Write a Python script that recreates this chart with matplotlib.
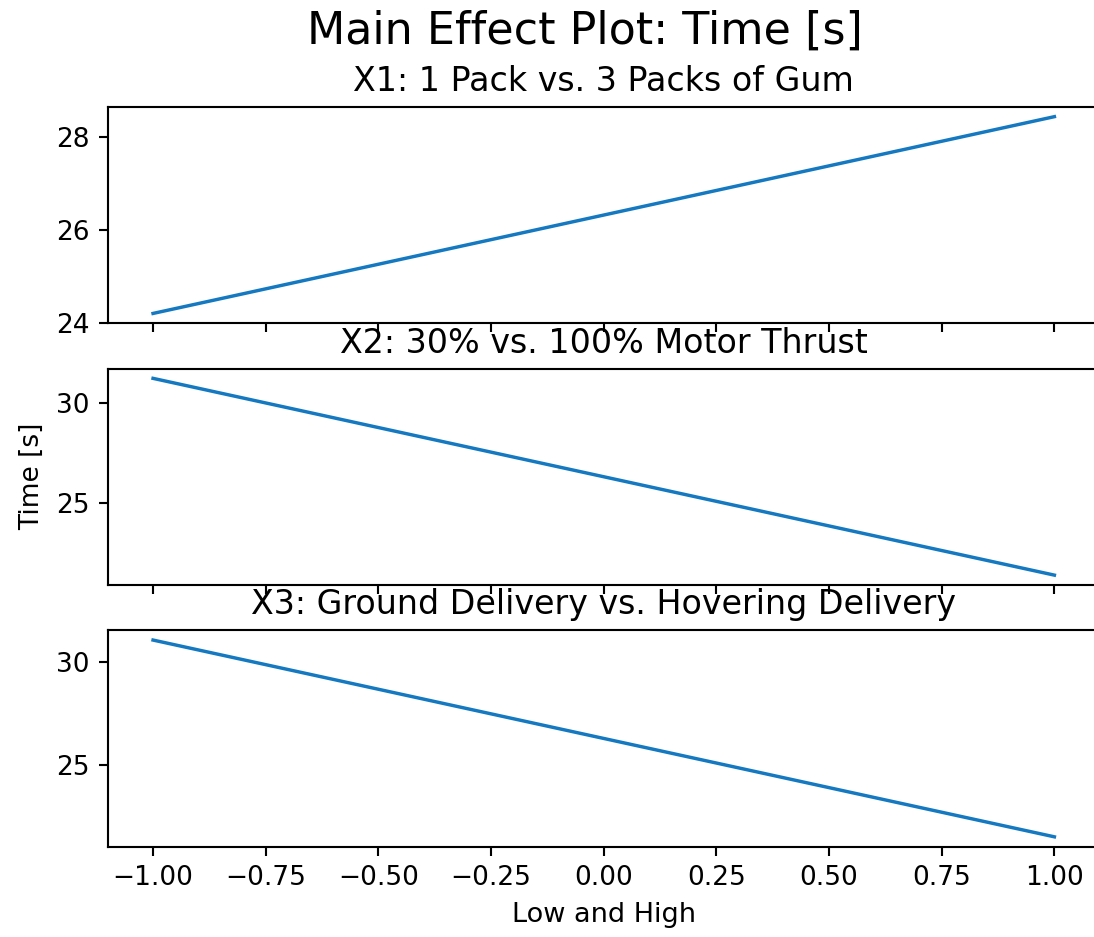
import matplotlib
matplotlib.use("Agg")
import matplotlib.pyplot as plt

# Coded factor levels (low, high)
levels = [-1, 1]

# Mean response time [s] at each factor level
x1_means = [24.2, 28.45]
x2_means = [31.2, 21.42]
x3_means = [31.07, 21.53]

factor_titles = [
    "X1: 1 Pack vs. 3 Packs of Gum",
    "X2: 30% vs. 100% Motor Thrust",
    "X3: Ground Delivery vs. Hovering Delivery",
]

DPI = 190
fig, axes = plt.subplots(3, 1, sharex=True, figsize=(1094 / DPI, 937 / DPI), dpi=DPI)
fig.subplots_adjust(left=0.0987, right=1.005, bottom=0.0964, top=0.886, hspace=0.209)

for ax, means, title in zip(axes, [x1_means, x2_means, x3_means], factor_titles):
    ax.plot(levels, means, color="#1479c0", linewidth=1.3)
    ax.set_title(title, fontsize=12.6)
    ax.tick_params(labelsize=10)

axes[0].set_yticks([24, 26, 28])
axes[1].set_yticks([25, 30])
axes[2].set_yticks([25, 30])
axes[1].set_ylabel("Time [s]", fontsize=10)
axes[2].set_xlabel("Low and High", fontsize=10.3)
fig.suptitle("Main Effect Plot: Time [s]", fontsize=16.8, x=0.535, y=0.99)

fig.savefig("out.png", dpi=DPI)
